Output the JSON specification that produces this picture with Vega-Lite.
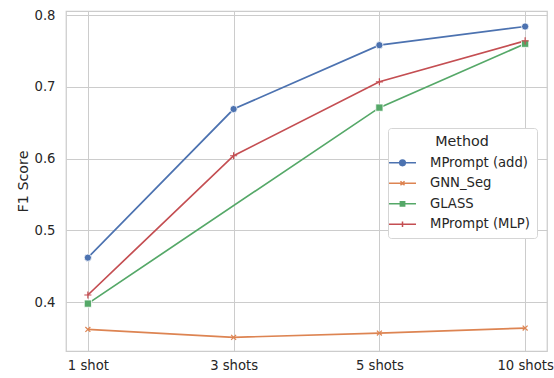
{
  "$schema": "https://vega.github.io/schema/vega-lite/v6.json",
  "width": 481,
  "height": 340,
  "autosize": {"type": "pad"},
  "padding": {"left": 16, "top": 8, "right": 6, "bottom": 0},
  "config": {
    "font": "DejaVu Sans",
    "view": {"stroke": "#cccccc", "strokeWidth": 1.25},
    "axis": {
      "domain": false, "ticks": false, "tickSize": 0, "grid": true,
      "gridColor": "#cccccc", "gridWidth": 1, "gridOpacity": 1,
      "labelFont": "DejaVu Sans", "labelFontSize": 13.2, "labelColor": "#262626",
      "titleFont": "DejaVu Sans", "titleFontSize": 14.3, "titleColor": "#262626", "titleFontWeight": "normal"
    },
    "legend": {
      "labelFont": "DejaVu Sans", "labelFontSize": 13.2, "labelColor": "#262626",
      "titleFont": "DejaVu Sans", "titleFontSize": 14.3, "titleColor": "#262626", "titleFontWeight": "normal"
    }
  },
  "data": {
    "values": [
      {"Shots": "1 shot", "Method": "MPrompt (add)", "F1": 0.462},
      {"Shots": "3 shots", "Method": "MPrompt (add)", "F1": 0.669},
      {"Shots": "5 shots", "Method": "MPrompt (add)", "F1": 0.758},
      {"Shots": "10 shots", "Method": "MPrompt (add)", "F1": 0.784},
      {"Shots": "1 shot", "Method": "GNN_Seg", "F1": 0.362},
      {"Shots": "3 shots", "Method": "GNN_Seg", "F1": 0.351},
      {"Shots": "5 shots", "Method": "GNN_Seg", "F1": 0.357},
      {"Shots": "10 shots", "Method": "GNN_Seg", "F1": 0.364},
      {"Shots": "1 shot", "Method": "GLASS", "F1": 0.398},
      {"Shots": "5 shots", "Method": "GLASS", "F1": 0.671},
      {"Shots": "10 shots", "Method": "GLASS", "F1": 0.760},
      {"Shots": "1 shot", "Method": "MPrompt (MLP)", "F1": 0.410},
      {"Shots": "3 shots", "Method": "MPrompt (MLP)", "F1": 0.604},
      {"Shots": "5 shots", "Method": "MPrompt (MLP)", "F1": 0.707},
      {"Shots": "10 shots", "Method": "MPrompt (MLP)", "F1": 0.764}
    ]
  },
  "encoding": {
    "x": {
      "field": "Shots", "type": "ordinal",
      "sort": ["1 shot", "3 shots", "5 shots", "10 shots"],
      "scale": {"type": "point", "padding": 0.15},
      "axis": {"title": null, "labelAngle": 0, "labelPadding": 8}
    },
    "y": {
      "field": "F1", "type": "quantitative",
      "scale": {"domain": [0.332, 0.8056], "nice": false, "zero": false},
      "axis": {"title": "F1 Score", "values": [0.4, 0.5, 0.6, 0.7, 0.8], "format": ".1f", "labelPadding": 11, "titlePadding": 4}
    }
  },
  "layer": [
    {
      "mark": {"type": "line", "strokeWidth": 1.7},
      "encoding": {
        "color": {
          "field": "Method", "type": "nominal",
          "scale": {
            "domain": ["MPrompt (add)", "GNN_Seg", "GLASS", "MPrompt (MLP)"],
            "range": ["#4c72b0", "#dd8452", "#55a868", "#c44e52"]
          },
          "legend": {
            "title": "Method",
            "orient": "none",
            "legendX": 322,
            "legendY": 117,
            "titleAnchor": "middle",
            "fillColor": "white",
            "strokeColor": "#d5d5d5",
            "cornerRadius": 3,
            "padding": 7,
            "symbolSize": 182,
            "symbolStrokeWidth": 1.5,
            "labelOffset": 20,
            "rowPadding": 6.5,
            "titlePadding": 6,
            "encode": {
              "symbols": {
                "update": {
                  "shape": {"signal": "datum.value === 'MPrompt (add)' ? 'M-2,0L2,0M0.42,0A0.42,0.42 0 1,1 -0.42,0A0.42,0.42 0 1,1 0.42,0Z' : datum.value === 'GNN_Seg' ? 'M-2,0L2,0M-0.3,-0.3L0.3,0.3M-0.3,0.3L0.3,-0.3' : datum.value === 'GLASS' ? 'M-2,0L2,0M-0.32,-0.32L0.32,-0.32L0.32,0.32L-0.32,0.32Z' : 'M-2,0L2,0M0,-0.4L0,0.4'"},
                  "fill": {"signal": "datum.value === 'MPrompt (add)' ? '#4c72b0' : datum.value === 'GLASS' ? '#55a868' : 'transparent'"},
                  "strokeWidth": {"value": 1.5}
                }
              }
            }
          }
        }
      }
    },
    {
      "transform": [{"filter": "datum.Method === 'MPrompt (add)' || datum.Method === 'GLASS'"}],
      "mark": {"type": "point", "filled": true, "opacity": 1, "stroke": "white", "strokeWidth": 0.8},
      "encoding": {
        "color": {"field": "Method", "type": "nominal", "legend": null},
        "shape": {
          "field": "Method", "type": "nominal", "legend": null,
          "scale": {"domain": ["MPrompt (add)", "GLASS"], "range": ["circle", "square"]}
        },
        "size": {"value": 52}
      }
    },
    {
      "transform": [{"filter": "datum.Method === 'GNN_Seg' || datum.Method === 'MPrompt (MLP)'"}],
      "mark": {"type": "point", "filled": false, "opacity": 1, "strokeWidth": 1.2},
      "encoding": {
        "color": {"field": "Method", "type": "nominal", "legend": null},
        "shape": {
          "field": "Method", "type": "nominal", "legend": null,
          "scale": {"domain": ["GNN_Seg", "MPrompt (MLP)"], "range": ["M-0.7,-0.7L0.7,0.7M-0.7,0.7L0.7,-0.7", "M-1,0L1,0M0,-1L0,1"]}
        },
        "size": {"value": 50}
      }
    }
  ],
  "resolve": {"scale": {"shape": "independent"}}
}
